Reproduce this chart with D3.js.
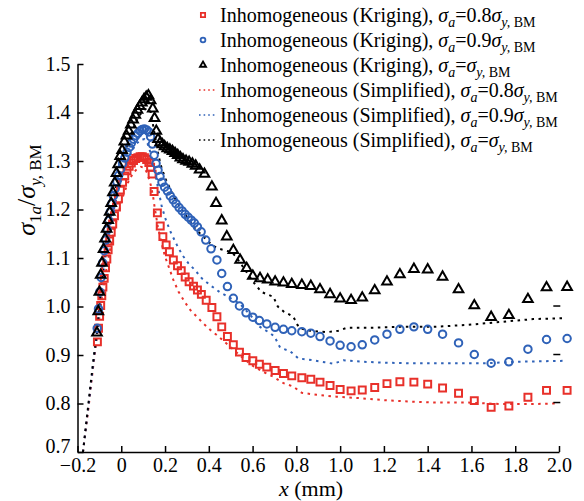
<!DOCTYPE html>
<html>
<head>
<meta charset="utf-8">
<script src="https://cdn.jsdelivr.net/npm/d3@7"></script>
<style>
  body { margin: 0; background: #fff; }
  svg text { font-family: "Liberation Serif", "Times New Roman", serif; }
  .axis path, .axis line { stroke: #000; stroke-width: 1.5; }
  .axis text { font-size: 20px; fill: #000; }
</style>
</head>
<body>
<svg width="584" height="501"></svg>
<script>
// values, [x (mm), sigma_1a / sigma_y,BM]
const kriging08 = [[-0.109,0.927],[-0.104,0.955],[-0.099,0.980],[-0.094,1.002],[-0.089,1.022],[-0.084,1.040],[-0.078,1.058],[-0.072,1.080],[-0.066,1.098],[-0.060,1.117],[-0.053,1.135],[-0.046,1.153],[-0.039,1.170],[-0.031,1.187],[-0.022,1.205],[-0.013,1.222],[-0.004,1.240],[0.006,1.256],[0.016,1.269],[0.026,1.280],[0.036,1.289],[0.046,1.296],[0.056,1.301],[0.066,1.305],[0.076,1.307],[0.086,1.309],[0.096,1.309],[0.106,1.307],[0.116,1.303],[0.126,1.297],[0.134,1.287],[0.141,1.273],[0.150,1.237],[0.165,1.193],[0.178,1.166],[0.190,1.144],[0.205,1.127],[0.220,1.113],[0.238,1.096],[0.257,1.084],[0.274,1.074],[0.292,1.061],[0.310,1.051],[0.330,1.042],[0.348,1.034],[0.366,1.025],[0.388,1.013],[0.414,0.998],[0.437,0.979],[0.459,0.958],[0.485,0.938],[0.512,0.921],[0.540,0.906],[0.570,0.895],[0.601,0.888],[0.631,0.881],[0.665,0.875],[0.703,0.868],[0.741,0.862],[0.779,0.857],[0.825,0.853],[0.866,0.850],[0.908,0.844],[0.954,0.837],[1.000,0.829],[1.050,0.826],[1.101,0.828],[1.158,0.833],[1.214,0.841],[1.273,0.845],[1.337,0.844],[1.400,0.840],[1.468,0.832],[1.541,0.821],[1.613,0.806],[1.690,0.792],[1.771,0.795],[1.858,0.813],[1.943,0.827],[2.037,0.827]];

const kriging09 = [[-0.110,0.955],[-0.104,0.995],[-0.098,1.030],[-0.092,1.060],[-0.085,1.090],[-0.078,1.115],[-0.071,1.137],[-0.064,1.158],[-0.057,1.177],[-0.050,1.195],[-0.043,1.212],[-0.036,1.228],[-0.028,1.243],[-0.020,1.257],[-0.012,1.270],[-0.003,1.283],[0.006,1.295],[0.016,1.306],[0.026,1.318],[0.036,1.328],[0.046,1.337],[0.056,1.345],[0.066,1.352],[0.076,1.357],[0.086,1.362],[0.096,1.365],[0.106,1.366],[0.116,1.364],[0.126,1.360],[0.134,1.350],[0.142,1.335],[0.150,1.312],[0.159,1.295],[0.168,1.281],[0.177,1.268],[0.186,1.256],[0.198,1.246],[0.211,1.238],[0.224,1.228],[0.237,1.220],[0.250,1.212],[0.264,1.204],[0.278,1.197],[0.292,1.190],[0.306,1.184],[0.320,1.178],[0.334,1.172],[0.348,1.164],[0.365,1.154],[0.386,1.137],[0.410,1.119],[0.437,1.096],[0.459,1.068],[0.485,1.041],[0.512,1.017],[0.540,1.001],[0.570,0.987],[0.601,0.978],[0.631,0.971],[0.665,0.964],[0.703,0.957],[0.741,0.953],[0.779,0.950],[0.825,0.948],[0.866,0.945],[0.908,0.938],[0.954,0.929],[1.000,0.920],[1.050,0.917],[1.101,0.921],[1.158,0.931],[1.214,0.943],[1.273,0.953],[1.337,0.958],[1.400,0.953],[1.468,0.943],[1.541,0.925],[1.613,0.901],[1.690,0.883],[1.771,0.886],[1.858,0.912],[1.943,0.932],[2.037,0.934]];

const kriging10 = [[-0.111,0.946],[-0.105,0.990],[-0.100,1.030],[-0.094,1.065],[-0.088,1.090],[-0.081,1.118],[-0.074,1.140],[-0.067,1.160],[-0.060,1.178],[-0.053,1.195],[-0.046,1.213],[-0.038,1.235],[-0.030,1.255],[-0.022,1.275],[-0.014,1.293],[-0.005,1.310],[0.004,1.322],[0.014,1.340],[0.024,1.352],[0.034,1.362],[0.044,1.375],[0.054,1.385],[0.064,1.395],[0.074,1.405],[0.084,1.413],[0.094,1.420],[0.104,1.427],[0.114,1.432],[0.124,1.435],[0.134,1.425],[0.144,1.408],[0.152,1.388],[0.160,1.362],[0.168,1.345],[0.178,1.338],[0.188,1.334],[0.198,1.330],[0.210,1.326],[0.222,1.323],[0.234,1.320],[0.246,1.316],[0.258,1.312],[0.270,1.307],[0.282,1.303],[0.296,1.300],[0.310,1.298],[0.325,1.294],[0.340,1.290],[0.358,1.282],[0.380,1.273],[0.414,1.247],[0.433,1.213],[0.459,1.177],[0.482,1.144],[0.512,1.116],[0.543,1.096],[0.573,1.079],[0.601,1.063],[0.634,1.058],[0.669,1.055],[0.703,1.051],[0.741,1.049],[0.779,1.046],[0.825,1.044],[0.866,1.042],[0.908,1.035],[0.954,1.025],[1.000,1.016],[1.050,1.013],[1.101,1.018],[1.158,1.033],[1.214,1.051],[1.273,1.066],[1.337,1.077],[1.400,1.076],[1.468,1.061],[1.541,1.035],[1.613,1.002],[1.690,0.978],[1.771,0.982],[1.858,1.015],[1.943,1.039],[2.037,1.040]];

const simplified08 = [[-0.175,0.700],[-0.150,0.790],[-0.130,0.870],[-0.110,0.940],[-0.090,1.015],[-0.070,1.072],[-0.050,1.120],[-0.030,1.162],[-0.010,1.198],[0.010,1.230],[0.030,1.255],[0.050,1.272],[0.070,1.283],[0.090,1.288],[0.105,1.286],[0.120,1.274],[0.135,1.250],[0.146,1.225],[0.152,1.206],[0.167,1.165],[0.182,1.134],[0.200,1.103],[0.219,1.079],[0.238,1.055],[0.261,1.031],[0.289,1.010],[0.315,0.993],[0.345,0.979],[0.375,0.965],[0.406,0.952],[0.437,0.941],[0.470,0.928],[0.510,0.912],[0.550,0.896],[0.600,0.878],[0.650,0.865],[0.695,0.855],[0.741,0.842],[0.786,0.835],[0.825,0.822],[0.893,0.818],[0.984,0.814],[1.091,0.811],[1.197,0.807],[1.319,0.804],[1.426,0.802],[1.578,0.802],[1.730,0.799],[1.882,0.799],[1.989,0.800]];

const simplified09 = [[-0.175,0.700],[-0.150,0.795],[-0.130,0.875],[-0.110,0.948],[-0.090,1.040],[-0.070,1.108],[-0.050,1.162],[-0.030,1.208],[-0.010,1.245],[0.010,1.276],[0.030,1.302],[0.050,1.322],[0.070,1.336],[0.090,1.344],[0.105,1.345],[0.120,1.336],[0.135,1.315],[0.150,1.285],[0.160,1.262],[0.170,1.240],[0.185,1.206],[0.204,1.178],[0.228,1.151],[0.254,1.127],[0.279,1.106],[0.307,1.089],[0.337,1.075],[0.368,1.058],[0.406,1.044],[0.452,1.029],[0.497,1.018],[0.543,1.005],[0.590,0.982],[0.634,0.958],[0.680,0.945],[0.700,0.938],[0.726,0.915],[0.771,0.908],[0.809,0.893],[0.878,0.889],[0.930,0.885],[0.969,0.882],[1.015,0.889],[1.106,0.886],[1.213,0.884],[1.319,0.883],[1.426,0.883],[1.578,0.883],[1.669,0.883],[1.806,0.886],[2.019,0.888]];

const simplified10 = [[-0.175,0.700],[-0.150,0.800],[-0.130,0.880],[-0.110,0.952],[-0.090,1.055],[-0.070,1.128],[-0.050,1.185],[-0.030,1.235],[-0.010,1.275],[0.010,1.308],[0.030,1.337],[0.050,1.362],[0.070,1.383],[0.090,1.398],[0.110,1.407],[0.125,1.408],[0.135,1.400],[0.150,1.362],[0.165,1.322],[0.180,1.292],[0.200,1.265],[0.230,1.236],[0.260,1.211],[0.289,1.192],[0.337,1.161],[0.375,1.144],[0.414,1.127],[0.440,1.120],[0.497,1.113],[0.520,1.105],[0.551,1.085],[0.604,1.050],[0.640,1.030],[0.695,1.020],[0.715,1.000],[0.741,0.990],[0.786,0.979],[0.805,0.962],[0.817,0.955],[0.863,0.950],[0.939,0.947],[0.992,0.950],[1.030,0.956],[1.121,0.956],[1.273,0.958],[1.426,0.958],[1.578,0.962],[1.730,0.968],[1.882,0.974],[2.019,0.976]];

// short dashes near the right end of the simplified curves
const endMarks = [[1.99,1.001],[1.99,0.901],[1.99,0.802]];

const xTicks = [-0.2,0,0.2,0.4,0.6,0.8,1.0,1.2,1.4,1.6,1.8,2.0];
const yTicks = [0.7,0.8,0.9,1.0,1.1,1.2,1.3,1.4,1.5];

const RED = "#e8302a", BLUE = "#2f62b8", BLACK = "#000";

const svg = d3.select("svg");
const x = d3.scaleLinear().domain([-0.2, 2.0]).range([77.5, 559]);
const y = d3.scaleLinear().domain([0.7, 1.5]).range([452, 64]);

// axes, ticks pointing inward
const fmt = d => d === 0 ? "0" : (d < 0 ? "\u2212" : "") + Math.abs(d).toFixed(1);
svg.append("g")
    .attr("class", "axis")
    .attr("transform", "translate(0," + y(0.7) + ")")
    .call(d3.axisBottom(x).tickValues(xTicks).tickFormat(fmt).tickSizeInner(-6).tickSizeOuter(0).tickPadding(6));
svg.append("g")
    .attr("class", "axis")
    .attr("transform", "translate(" + x(-0.2) + ",0)")
    .call(d3.axisLeft(y).tickValues(yTicks).tickFormat(d => d.toFixed(1)).tickSizeInner(-6).tickSizeOuter(0).tickPadding(7))
    .call(g => g.selectAll(".tick text").filter(d => d === 0.7).attr("dy", "0em"));

// simplified model, dotted lines
const line = d3.line().x(d => x(d[0])).y(d => y(d[1]));
[[simplified08, RED], [simplified09, BLUE], [simplified10, BLACK]].forEach(([data, col]) => {
    svg.append("path")
        .datum(data)
        .attr("d", line)
        .attr("fill", "none")
        .attr("stroke", col)
        .attr("stroke-width", 2)
        .attr("stroke-dasharray", "2.5,4.5");
});

svg.selectAll(".endmark")
    .data(endMarks)
    .enter().append("line")
    .attr("x1", d => x(d[0]) - 3.5)
    .attr("x2", d => x(d[0]) + 3.5)
    .attr("y1", d => y(d[1]))
    .attr("y2", d => y(d[1]))
    .attr("stroke", "#000")
    .attr("stroke-width", 1.5);

// kriging model, hollow markers
const symSquare = d3.symbol().type(d3.symbolSquare).size(48);
const symCircle = d3.symbol().type(d3.symbolCircle).size(44);
const symTriangle = d3.symbol().type(d3.symbolTriangle).size(40);

function drawMarkers(data, sym, col) {
    svg.append("g").selectAll("path")
        .data(data)
        .enter().append("path")
        .attr("transform", d => "translate(" + x(d[0]) + "," + y(d[1]) + ")")
        .attr("d", sym)
        .attr("fill", "none")
        .attr("stroke", col)
        .attr("stroke-width", 2);
}
drawMarkers(kriging08, symSquare, RED);
drawMarkers(kriging09, symCircle, BLUE);
drawMarkers(kriging10, symTriangle, BLACK);

// axis titles
svg.append("text")
    .attr("x", 311)
    .attr("y", 496)
    .attr("text-anchor", "middle")
    .style("font-size", "22px")
    .html('<tspan font-style="italic">x</tspan> (mm)');

svg.append("text")
    .attr("transform", "translate(35,190) rotate(-90)")
    .attr("text-anchor", "middle")
    .style("font-size", "26px")
    .html('<tspan font-style="italic">σ</tspan><tspan dy="6" font-size="17">1<tspan font-style="italic">a</tspan></tspan><tspan dy="-6">/</tspan><tspan font-style="italic">σ</tspan><tspan dy="6" font-size="17"><tspan font-style="italic">y,</tspan> BM</tspan>');

// legend
const legendRows = [
    { kind: "square", col: RED, label: "Inhomogeneous (Kriging), ", val: "0.8" },
    { kind: "circle", col: BLUE, label: "Inhomogeneous (Kriging), ", val: "0.9" },
    { kind: "triangle", col: BLACK, label: "Inhomogeneous (Kriging), ", val: "" },
    { kind: "dots", col: RED, label: "Inhomogeneous (Simplified), ", val: "0.8" },
    { kind: "dots", col: BLUE, label: "Inhomogeneous (Simplified), ", val: "0.9" },
    { kind: "dots", col: BLACK, label: "Inhomogeneous (Simplified), ", val: "" }
];
const legend = svg.append("g").attr("transform", "translate(0,15)");
legendRows.forEach((r, i) => {
    const g = legend.append("g").attr("transform", "translate(0," + i * 25 + ")");
    if (r.kind === "dots") {
        g.append("line").attr("x1", 199).attr("x2", 217).attr("y1", 0).attr("y2", 0)
            .attr("stroke", r.col).attr("stroke-width", 1.6).attr("stroke-dasharray", "1.6,3");
    } else {
        const s = r.kind === "square" ? d3.symbol().type(d3.symbolSquare).size(18)
            : r.kind === "circle" ? d3.symbol().type(d3.symbolCircle).size(18)
            : d3.symbol().type(d3.symbolTriangle).size(16);
        g.append("path").attr("transform", "translate(203,0)").attr("d", s)
            .attr("fill", "none").attr("stroke", r.col).attr("stroke-width", 1.8);
    }
    g.append("text")
        .attr("x", 220)
        .attr("y", 7)
        .style("font-size", "20px")
        .html(r.label + '<tspan font-style="italic">σ</tspan><tspan dy="5" font-size="14" font-style="italic">a</tspan><tspan dy="-5">=' + r.val + '</tspan><tspan font-style="italic">σ</tspan><tspan dy="5" font-size="14"><tspan font-style="italic">y,</tspan> BM</tspan>');
});
</script>
</body>
</html>
